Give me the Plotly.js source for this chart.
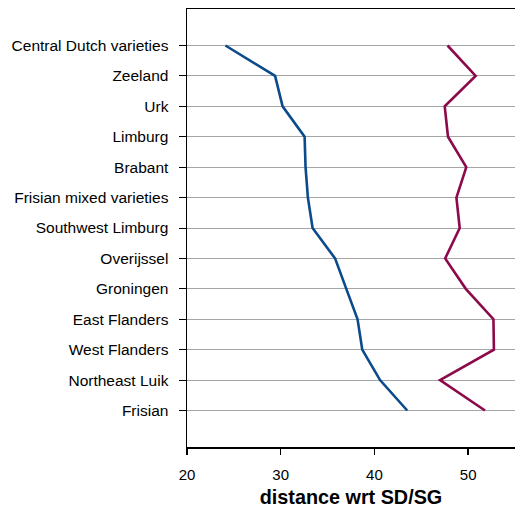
<!DOCTYPE html>
<html><head><meta charset="utf-8">
<script src="https://cdn.plot.ly/plotly-3.0.1.min.js"></script>
<style>body{margin:0;padding:0;background:#fff}#chart{width:515px;height:511px}</style>
</head><body><div id="chart"></div>
<script>
const categories = ["Central Dutch varieties","Zeeland","Urk","Limburg","Brabant","Frisian mixed varieties","Southwest Limburg","Overijssel","Groningen","East Flanders","West Flanders","Northeast Luik","Frisian"];
const blueValues = [24.1,29.4,30.2,32.55,32.65,32.9,33.4,35.8,37.0,38.2,38.7,40.6,43.5];
const redValues = [47.8,50.8,47.5,47.85,49.8,48.75,49.1,47.55,49.75,52.7,52.75,47.0,51.8];
const xTicks = [20,30,40,50];
const idx = categories.map((c,i)=>i);
const data = [
 {x: blueValues, y: idx, type:'scatter', mode:'lines', line:{color:'#0b4a8b', width:2.6}, hoverinfo:'x'},
 {x: redValues, y: idx, type:'scatter', mode:'lines', line:{color:'#8c0a4b', width:2.6}, hoverinfo:'x'}
];
const layout = {
 width:515, height:511, showlegend:false,
 margin:{l:187, r:0, t:9, b:64},
 paper_bgcolor:'#fff', plot_bgcolor:'#fff',
 font:{family:'Liberation Sans, Arial, sans-serif', size:15, color:'#000'},
 xaxis:{range:[20,55], tickvals:xTicks, ticks:'outside', ticklen:6, tickwidth:1.5, tickcolor:'#000',
   showline:true, linecolor:'#000', linewidth:1.5, mirror:true, showgrid:false, zeroline:false,
   tickfont:{size:15}, ticklabelstandoff:7, title:{text:'distance wrt SD/SG', font:{size:19.8, weight:'bold'}, standoff:8}},
 yaxis:{range:[13.2,-1.2], tickvals:idx, ticktext:categories, ticks:'outside', ticklen:7, tickwidth:1, tickcolor:'#000',
   showline:true, linecolor:'#000', linewidth:1.5, showgrid:true, gridcolor:'#a6a6a6', gridwidth:1, zeroline:false,
   tickfont:{size:15.5}, ticklabelstandoff:7}
};
Plotly.newPlot('chart', data, layout, {displayModeBar:false, staticPlot:true});
</script></body></html>
